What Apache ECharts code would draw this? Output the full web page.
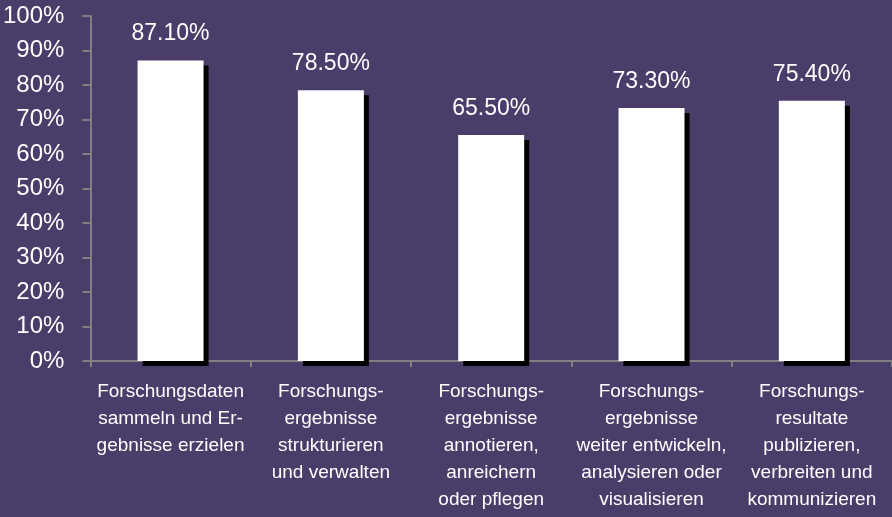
<!DOCTYPE html>
<html>
<head>
<meta charset="utf-8">
<script src="https://cdn.jsdelivr.net/npm/echarts@6/dist/echarts.min.js"></script>
<style>
  html, body { margin: 0; padding: 0; background: #4a3d6a; }
  #chart { width: 892px; height: 517px; }
</style>
</head>
<body>
<div id="chart"></div>
<script>
// categories and values
const categories = [
  'Forschungsdaten\nsammeln und Er-\ngebnisse erzielen',
  'Forschungs-\nergebnisse\nstrukturieren\nund verwalten',
  'Forschungs-\nergebnisse\nannotieren,\nanreichern\noder pflegen',
  'Forschungs-\nergebnisse\nweiter entwickeln,\nanalysieren oder\nvisualisieren',
  'Forschungs-\nresultate\npublizieren,\nverbreiten und\nkommunizieren'
]
const shares = [87.1, 78.5, 65.5, 73.3, 75.4]

const font = "'Liberation Sans', Arial, sans-serif"
const chart = echarts.init(document.getElementById('chart'))

const option = {
  backgroundColor: '#4a3d6a',
  animation: false,
  grid: {
    left: 88,
    right: -11,
    top: 16,
    bottom: 156
  },
  xAxis: {
    type: 'category',
    data: categories,
    axisLine: { lineStyle: { color: '#808080', width: 2 } },
    axisTick: { show: true, length: 6, lineStyle: { color: '#808080', width: 2 } },
    axisLabel: {
      color: '#ffffff',
      fontFamily: font,
      fontSize: 19,
      lineHeight: 27,
      margin: 17,
      interval: 0
    }
  },
  yAxis: {
    type: 'value',
    min: 0,
    max: 100,
    interval: 10,
    axisLine: { show: true, lineStyle: { color: '#808080', width: 2 } },
    axisTick: { show: true, length: 8, lineStyle: { color: '#808080', width: 2 } },
    splitLine: { show: false },
    axisLabel: {
      color: '#ffffff',
      fontFamily: font,
      fontSize: 24,
      margin: 26,
      formatter: '{value}%'
    }
  },
  series: [
    {
      type: 'bar',
      data: shares,
      barWidth: 66,
      itemStyle: {
        color: '#ffffff',
        shadowColor: '#000000',
        shadowOffsetX: 5,
        shadowOffsetY: 5,
        shadowBlur: 0
      },
      label: {
        show: true,
        position: 'top',
        distance: 15,
        color: '#ffffff',
        fontFamily: font,
        fontSize: 23,
        formatter: p => p.value.toFixed(2) + '%'
      }
    }
  ]
}

chart.setOption(option)
</script>
</body>
</html>
